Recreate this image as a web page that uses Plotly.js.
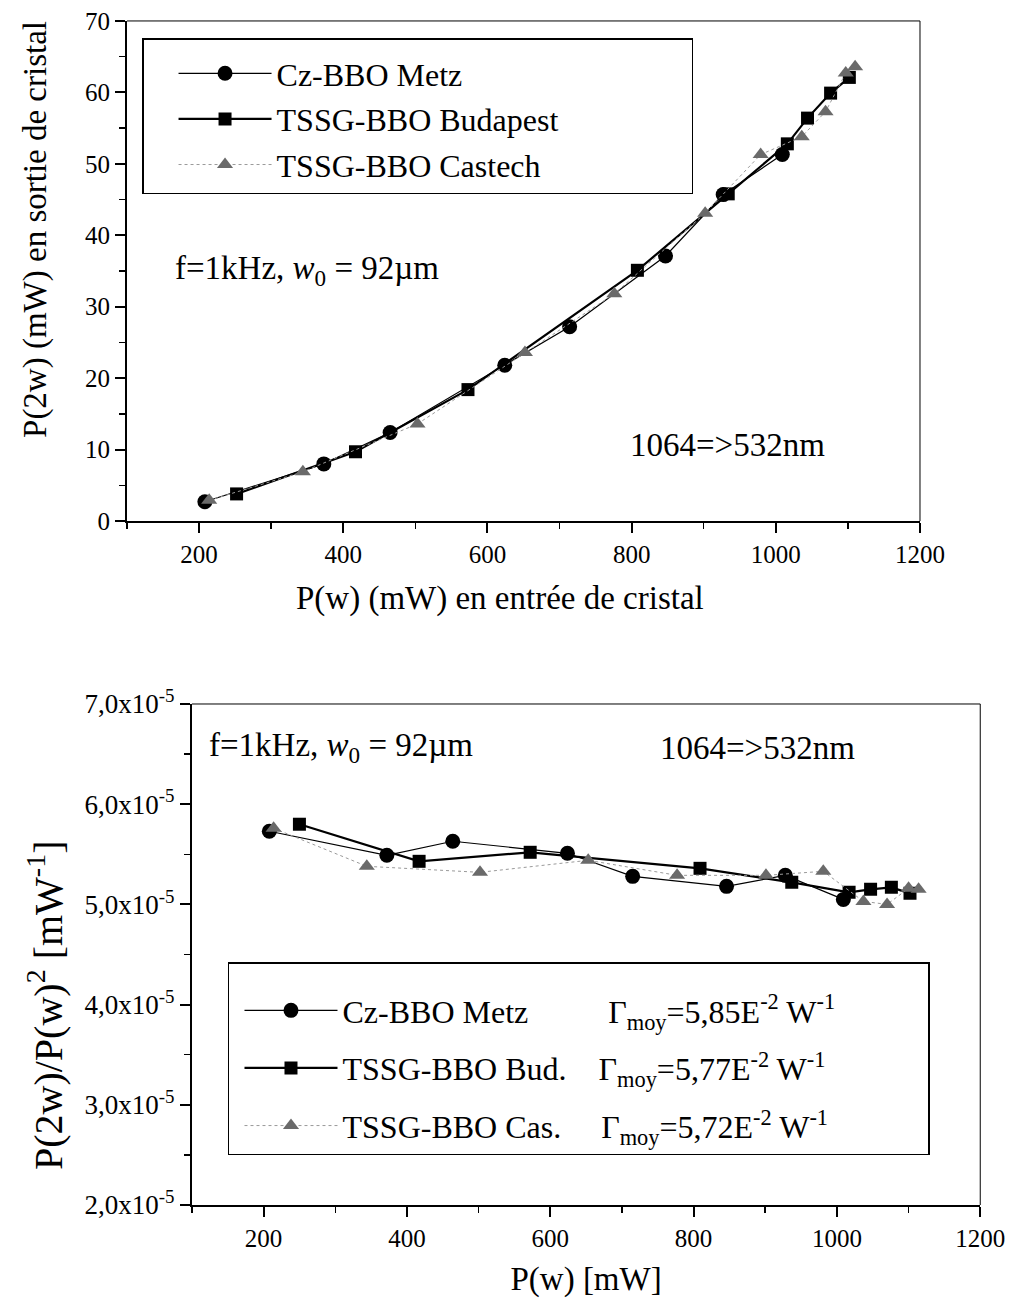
<!DOCTYPE html>
<html>
<head>
<meta charset="utf-8">
<script src="https://cdn.plot.ly/plotly-3.0.1.min.js"></script>
<style>html,body{margin:0;padding:0;background:#fff;}#chart{width:1016px;height:1302px;}</style>
</head>
<body>
<div id="chart"></div>
<script>
// ---- Top chart: P(2w) vs P(w) ----
const metzX = [208, 373, 465, 624, 714, 847, 927, 1009];
const metzY = [2.7, 8.0, 12.4, 21.8, 27.2, 37.1, 45.7, 51.3];
const budX = [252, 417, 573, 808, 934, 1016, 1044, 1076, 1102];
const budY = [3.8, 9.7, 18.4, 35.1, 45.8, 52.8, 56.4, 59.9, 62.1];
const casX = [214, 344, 503, 652, 776, 902, 979, 1036, 1069, 1097, 1110];
const casY = [2.9, 6.9, 13.6, 23.6, 31.8, 43.1, 51.3, 53.8, 57.3, 62.7, 63.6];

// ---- Bottom chart: P(2w)/P(w)^2 vs P(w) ----
const metzRatioX = [208, 372, 464, 624, 715, 846, 928, 1009];
const metzRatio = [5.73e-5, 5.49e-5, 5.63e-5, 5.51e-5, 5.28e-5, 5.18e-5, 5.29e-5, 5.05e-5];
const budRatioX = [250, 417, 572, 809, 937, 1017, 1047, 1076, 1102];
const budRatio = [5.80e-5, 5.43e-5, 5.52e-5, 5.36e-5, 5.22e-5, 5.12e-5, 5.15e-5, 5.17e-5, 5.11e-5];
const casRatioX = [214, 344, 502, 653, 777, 901, 981, 1037, 1070, 1100, 1114];
const casRatio = [5.76e-5, 5.38e-5, 5.32e-5, 5.44e-5, 5.29e-5, 5.29e-5, 5.33e-5, 5.03e-5, 5.00e-5, 5.16e-5, 5.15e-5];

const NB = n => '\u00a0'.repeat(n);
const topNames = ['Cz-BBO Metz', 'TSSG-BBO Budapest' + NB(16), 'TSSG-BBO Castech'];
const botNames = [
  'Cz-BBO Metz' + NB(10) + 'Γ<sub>moy</sub>=5,85E<sup>-2</sup> W<sup>-1</sup>' + NB(11),
  'TSSG-BBO Bud.' + NB(4) + 'Γ<sub>moy</sub>=5,77E<sup>-2</sup> W<sup>-1</sup>',
  'TSSG-BBO Cas.' + NB(5) + 'Γ<sub>moy</sub>=5,72E<sup>-2</sup> W<sup>-1</sup>'
];
const yTickVals = [2e-5, 3e-5, 4e-5, 5e-5, 6e-5, 7e-5];
const yTickText = ['2,0x10<sup>-5</sup>', '3,0x10<sup>-5</sup>', '4,0x10<sup>-5</sup>', '5,0x10<sup>-5</sup>', '6,0x10<sup>-5</sup>', '7,0x10<sup>-5</sup>'];

const FONT = 'Liberation Serif, Times New Roman, serif';

const styles = [
  {line: {color: '#000', width: 1.2}, marker: {symbol: 'circle', size: 15, color: '#000'}},
  {line: {color: '#000', width: 2.2}, marker: {symbol: 'square', size: 13, color: '#000'}},
  {line: {color: '#9a9a9a', width: 1, dash: 'dot'}, marker: {symbol: 'triangle-up', size: 14, color: '#6a6a6a'}}
];

const traces = [];
[[metzX, metzY], [budX, budY], [casX, casY]].forEach((d, i) => {
  traces.push({x: d[0], y: d[1], xaxis: 'x', yaxis: 'y', mode: 'lines+markers', name: topNames[i],
    line: styles[i].line, marker: styles[i].marker, legend: 'legend', legendgroup: 't' + i});
});
[[metzRatioX, metzRatio], [budRatioX, budRatio], [casRatioX, casRatio]].forEach((d, i) => {
  traces.push({x: d[0], y: d[1], xaxis: 'x2', yaxis: 'y2', mode: 'lines+markers', name: botNames[i],
    line: styles[i].line, marker: styles[i].marker, legend: 'legend2', legendgroup: 'b' + i});
});

const minorStyle = (dt) => ({dtick: dt, ticks: 'outside', ticklen: 6, tickwidth: 1.5, tickcolor: '#000', showgrid: false});
const axBase = {showline: true, linecolor: '#000', linewidth: 2, ticks: 'outside', ticklen: 10, tickwidth: 2,
  tickcolor: '#000', showgrid: false, zeroline: false, tickfont: {family: FONT, size: 25, color: '#000'}};
function ax(extra) { return Object.assign({}, axBase, extra); }

const layout = {
  width: 1016, height: 1302, margin: {l: 0, r: 0, t: 0, b: 0},
  paper_bgcolor: '#fff', plot_bgcolor: '#fff', font: {family: FONT, color: '#000'},
  xaxis: ax({domain: [0.125, 0.9055], range: [100, 1200], dtick: 200, tick0: 0, anchor: 'y',
    minor: minorStyle(100)}),
  yaxis: ax({domain: [0.5998, 0.9839], range: [0, 70], dtick: 10, anchor: 'x',
    minor: minorStyle(5)}),
  xaxis2: ax({domain: [0.1889, 0.9648], range: [100, 1200], dtick: 200, tick0: 0, anchor: 'y2',
    minor: minorStyle(100),
    title: {text: 'P(w) [mW]', font: {family: FONT, size: 33}, standoff: 16}}),
  yaxis2: ax({domain: [0.0745, 0.4593], range: [2e-5, 7e-5], tickvals: yTickVals, ticktext: yTickText, anchor: 'x2',
    tickfont: {family: FONT, size: 27, color: '#000'},
    minor: Object.assign(minorStyle(0.5e-5), {tick0: 0})}),
  legend: {x: 0.1398, y: 0.9708, xanchor: 'left', yanchor: 'top', bgcolor: '#fff', bordercolor: '#000', borderwidth: 1.5,
    font: {family: FONT, size: 32, color: '#000'}, indentation: 30, itemwidth: 93, traceorder: 'grouped', tracegroupgap: 1,
    title: {text: '\u00a0', font: {family: FONT, size: 5}}},
  legend2: {x: 0.2244, y: 0.2611, xanchor: 'left', yanchor: 'top', bgcolor: '#fff', bordercolor: '#000', borderwidth: 1.5,
    font: {family: FONT, size: 32, color: '#000'}, indentation: 10, itemwidth: 93, traceorder: 'grouped', tracegroupgap: 13,
    title: {text: '\u00a0', font: {family: FONT, size: 15}}},
  shapes: [
    {type: 'line', xref: 'x domain', yref: 'y domain', x0: 0, x1: 1, y0: 1, y1: 1, line: {color: '#000', width: 1}},
    {type: 'line', xref: 'x domain', yref: 'y domain', x0: 1, x1: 1, y0: 0, y1: 1, line: {color: '#000', width: 1}},
    {type: 'line', xref: 'x2 domain', yref: 'y2 domain', x0: 0, x1: 1, y0: 1, y1: 1, line: {color: '#000', width: 1}},
    {type: 'line', xref: 'x2 domain', yref: 'y2 domain', x0: 1, x1: 1, y0: 0, y1: 1, line: {color: '#000', width: 1}}
  ],
  annotations: [
    // axis titles
    {xref: 'paper', yref: 'paper', x: 0.4921, y: 0.5407, xanchor: 'center', yanchor: 'middle', showarrow: false,
      text: 'P(w) (mW) en entrée de cristal', font: {family: FONT, size: 33}},
    {xref: 'paper', yref: 'paper', x: 0.0344, y: 0.8241, xanchor: 'center', yanchor: 'middle', showarrow: false, textangle: -90,
      text: 'P(2w) (mW) en sortie de cristal', font: {family: FONT, size: 33}},
    {xref: 'paper', yref: 'paper', x: 0.0443, y: 0.2281, xanchor: 'center', yanchor: 'middle', showarrow: false, textangle: -90,
      text: 'P(2w)/P(w)<sup>2</sup> [mW<sup>-1</sup>]', font: {family: FONT, size: 40}},
    // labels inside plots
    {xref: 'paper', yref: 'paper', x: 0.170, y: 0.7926, xanchor: 'left', yanchor: 'middle', showarrow: false,
      text: 'f=1kHz, <i>w</i><sub>0</sub> = 92µm', font: {family: FONT, size: 33}},
    {xref: 'paper', yref: 'paper', x: 0.618, y: 0.658, xanchor: 'left', yanchor: 'middle', showarrow: false,
      text: '1064=>532nm', font: {family: FONT, size: 33}},
    {xref: 'paper', yref: 'paper', x: 0.204, y: 0.4255, xanchor: 'left', yanchor: 'middle', showarrow: false,
      text: 'f=1kHz, <i>w</i><sub>0</sub> = 92µm', font: {family: FONT, size: 33}},
    {xref: 'paper', yref: 'paper', x: 0.648, y: 0.4255, xanchor: 'left', yanchor: 'middle', showarrow: false,
      text: '1064=>532nm', font: {family: FONT, size: 33}}
  ]
};

Plotly.newPlot('chart', traces, layout, {staticPlot: true, displayModeBar: false});
</script>
</body>
</html>
